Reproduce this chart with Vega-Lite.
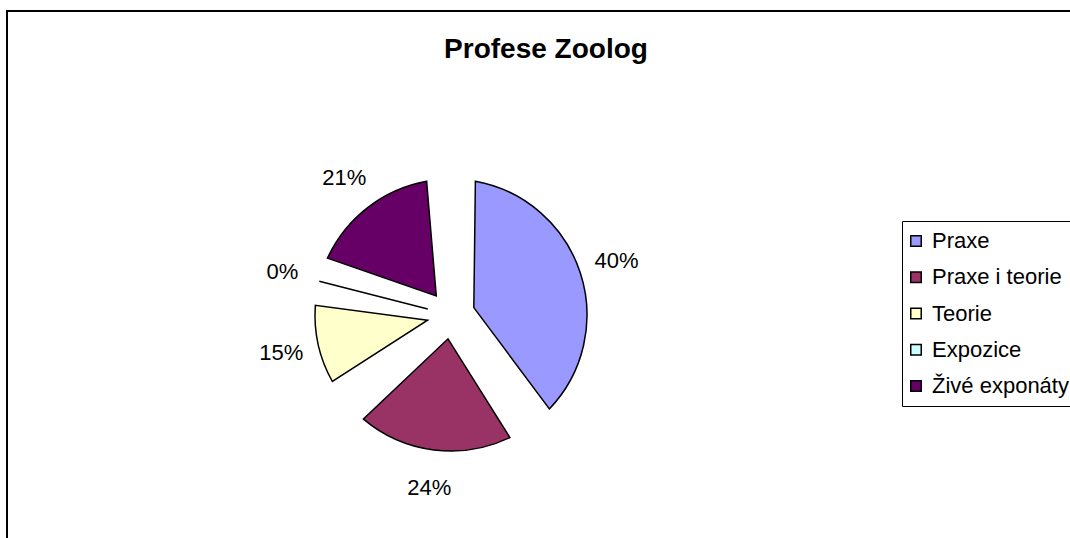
{
  "$schema": "https://vega.github.io/schema/vega-lite/v6.json",
  "width": 1066,
  "height": 530,
  "autosize": {"type": "none"},
  "padding": {"left": 7, "top": 11, "right": -3, "bottom": -3},
  "background": "white",
  "config": {
    "view": {"stroke": "black", "strokeWidth": 2},
    "font": "Liberation Sans"
  },
  "title": {
    "text": "Profese Zoolog",
    "fontSize": 28,
    "font": "Liberation Sans",
    "fontWeight": "bold",
    "color": "black",
    "anchor": "middle",
    "frame": "group",
    "offset": -75,
    "baseline": "alphabetic",
    "dx": 6
  },
  "data": {
    "values": [
      {"kategorie": "Praxe", "podil": 0.40, "poradi": 1},
      {"kategorie": "Praxe i teorie", "podil": 0.24, "poradi": 2},
      {"kategorie": "Teorie", "podil": 0.15, "poradi": 3},
      {"kategorie": "Expozice", "podil": 0.0, "poradi": 4},
      {"kategorie": "Živé exponáty", "podil": 0.21, "poradi": 5}
    ]
  },
  "encoding": {
    "theta": {"field": "podil", "type": "quantitative", "stack": true},
    "order": {"field": "poradi", "type": "quantitative"},
    "x": {"value": 444},
    "y": {"value": 304}
  },
  "layer": [
    {
      "mark": {
        "type": "arc",
        "innerRadius": 24,
        "outerRadius": 136,
        "padAngle": 0.355,
        "stroke": "black",
        "strokeWidth": 1.5
      },
      "encoding": {
        "color": {
          "field": "kategorie",
          "type": "nominal",
          "scale": {
            "domain": ["Praxe", "Praxe i teorie", "Teorie", "Expozice", "Živé exponáty"],
            "range": ["#9999FF", "#993366", "#FFFFCC", "#CCFFFF", "#660066"]
          },
          "legend": {
            "title": null,
            "orient": "none",
            "legendX": 895,
            "legendY": 210,
            "strokeColor": "black",
            "padding": 9,
            "rowPadding": 14.25,
            "symbolType": "square",
            "symbolSize": 110,
            "symbolOffset": -6,
            "symbolStrokeColor": "black",
            "symbolStrokeWidth": 1.5,
            "symbolOpacity": 1,
            "labelFont": "Liberation Sans",
            "labelFontSize": 22,
            "labelColor": "black",
            "labelOffset": 5,
            "labelLimit": 300
          }
        }
      }
    },
    {
      "mark": {
        "type": "text",
        "radius": 174,
        "fontSize": 22,
        "font": "Liberation Sans",
        "color": "black"
      },
      "encoding": {
        "text": {"field": "podil", "type": "quantitative", "format": ".0%"}
      }
    }
  ]
}
